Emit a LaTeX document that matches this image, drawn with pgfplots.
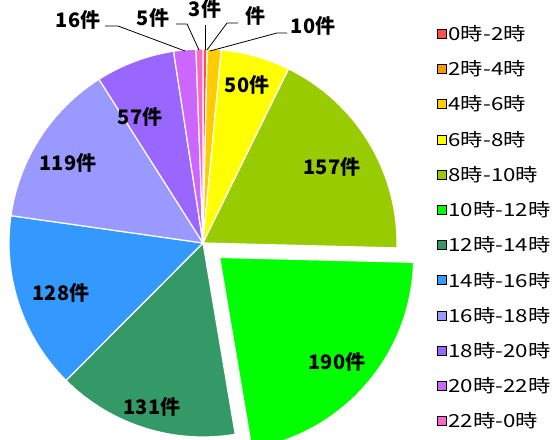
\documentclass[border=0pt]{standalone}
\usepackage{pgfplots}
\usepackage{pgfplotstable}
\pgfplotsset{compat=1.18}
\usepackage{fontspec}
\setmainfont{Noto Sans CJK JP}
\newfontfamily\legfont{Noto Sans CJK JP}[FakeStretch=1.24]
\newfontfamily\labfont{Noto Sans CJK JP}

\definecolor{pc0}{HTML}{FF5050}
\definecolor{pc1}{HTML}{FF9900}
\definecolor{pc2}{HTML}{FFCC00}
\definecolor{pc3}{HTML}{FFFF00}
\definecolor{pc4}{HTML}{99CC00}
\definecolor{pc5}{HTML}{00FF00}
\definecolor{pc6}{HTML}{339966}
\definecolor{pc7}{HTML}{3399FF}
\definecolor{pc8}{HTML}{9999FF}
\definecolor{pc9}{HTML}{9966FF}
\definecolor{pc10}{HTML}{CC66FF}
\definecolor{pc11}{HTML}{FF66CC}

\pgfplotstableread{
val
3
0
10
50
157
190
131
128
119
57
16
5
}\piedata

\gdef\total{0}
\pgfplotstableforeachcolumnelement{val}\of\piedata\as\v{\pgfmathparse{\total+\v}\xdef\total{\pgfmathresult}}

\begin{document}
\begin{tikzpicture}
\begin{axis}[
  name=pie,
  x=1pt, y=1pt, xmin=0, xmax=553, ymin=0, ymax=439,
  hide axis, clip=false,
  legend image code/.code={\fill[#1] (0pt,-4.5pt) rectangle (9pt,4.5pt);},
  legend style={at={(axis cs:434,417)}, anchor=north west, draw=none, fill=none,
    font=\legfont\fontsize{18}{18}\selectfont, row sep=16.6pt, column sep=1pt,
    nodes={inner sep=1pt}},
  legend cell align=left,
]
\path (axis cs:0,0) rectangle (axis cs:553,439);
\gdef\cum{0}
\pgfplotsforeachungrouped \i in {0,...,11}{%
  \pgfplotstablegetelem{\i}{val}\of\piedata
  \pgfmathsetmacro\va{\pgfplotsretval}%
  \pgfmathsetmacro\angA{90-\cum/\total*360}%
  \pgfmathsetmacro\cumB{\cum+\va}%
  \pgfmathsetmacro\angB{90-\cumB/\total*360}%
  \pgfmathsetmacro\angM{(\angA+\angB)/2}%
  \ifnum\i=5 \def\off{22}\else\def\off{0}\fi
  \edef\temp{\noexpand\fill[fill=pc\i, draw=white, line width=1.2pt, shift={(\angM:\off pt)}] (axis cs:203,196) -- ++(\angA:194pt) arc[start angle=\angA, end angle=\angB, radius=194pt] -- cycle;}%
  \temp
  \xdef\cum{\cumB}%
}
% leader lines
\draw[black, line width=0.8pt] (axis cs:205,414) -- (axis cs:205,389);
\draw[black, line width=0.8pt] (axis cs:238,416) -- (axis cs:227,416) -- (axis cs:207,389);
\draw[black, line width=0.8pt] (axis cs:287,406) -- (axis cs:277,406) -- (axis cs:210,388);
\draw[black, line width=0.8pt] (axis cs:176,415) -- (axis cs:187,415) -- (axis cs:199,389);
\draw[black, line width=0.8pt] (axis cs:105,413) -- (axis cs:118,413) -- (axis cs:185,388);
% labels
\begin{scope}[every node/.style={font=\labfont\bfseries\fontsize{20}{20}\selectfont, inner sep=0pt, anchor=center}]
\node at (axis cs:205,430) {3件};
\node at (axis cs:255,423) {件};
\node at (axis cs:313,413) {10件};
\node at (axis cs:153,421) {5件};
\node at (axis cs:78,419) {16件};
\node at (axis cs:247,354) {50件};
\node at (axis cs:332,272) {157件};
\node at (axis cs:337,77) {190件};
\node at (axis cs:152,32) {131件};
\node at (axis cs:61,146) {128件};
\node at (axis cs:68,276) {119件};
\node at (axis cs:140,322) {57件};
\end{scope}
\addlegendimage{fill=pc0}\addlegendentry{0時-2時}
\addlegendimage{fill=pc1}\addlegendentry{2時-4時}
\addlegendimage{fill=pc2}\addlegendentry{4時-6時}
\addlegendimage{fill=pc3}\addlegendentry{6時-8時}
\addlegendimage{fill=pc4}\addlegendentry{8時-10時}
\addlegendimage{fill=pc5}\addlegendentry{10時-12時}
\addlegendimage{fill=pc6}\addlegendentry{12時-14時}
\addlegendimage{fill=pc7}\addlegendentry{14時-16時}
\addlegendimage{fill=pc8}\addlegendentry{16時-18時}
\addlegendimage{fill=pc9}\addlegendentry{18時-20時}
\addlegendimage{fill=pc10}\addlegendentry{20時-22時}
\addlegendimage{fill=pc11}\addlegendentry{22時-0時}
\end{axis}
\pgfresetboundingbox
\path[use as bounding box] (pie.south west) rectangle (pie.north east);
\end{tikzpicture}
\end{document}
